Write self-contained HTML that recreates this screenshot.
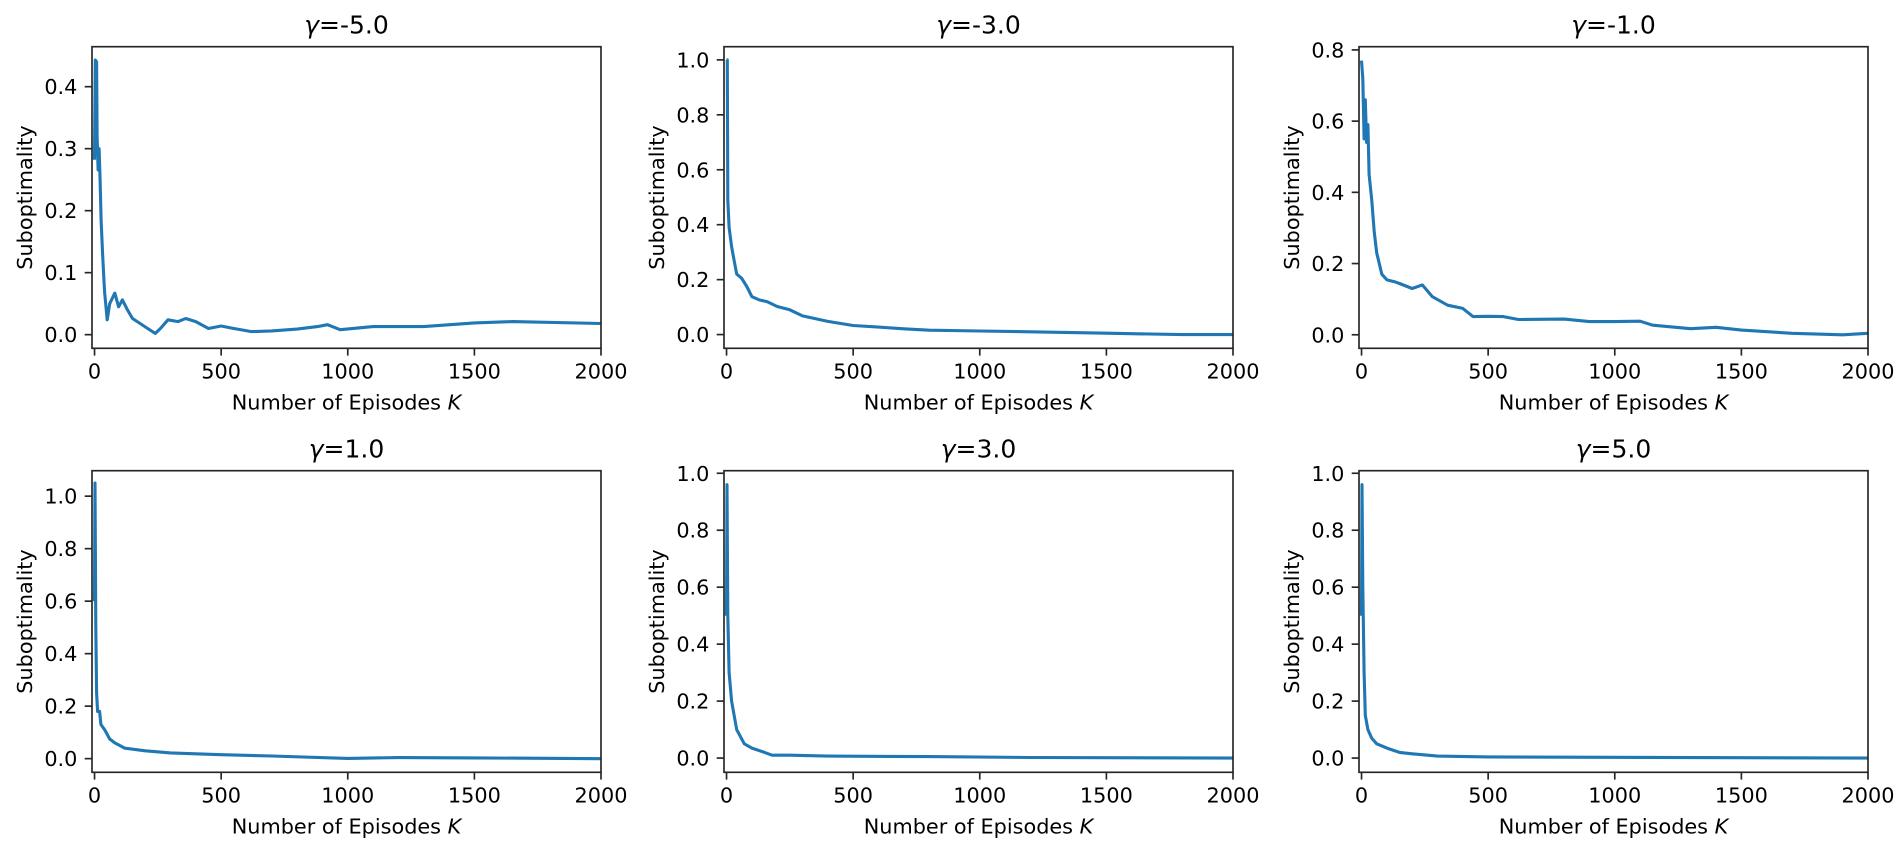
<!DOCTYPE html>
<html><head><meta charset="utf-8"><style>
html,body{margin:0;padding:0;background:#fff;}
svg{display:block;font-family:"DejaVu Sans","Liberation Sans",sans-serif;}
</style></head><body>
<svg id="fig" width="1899" height="843" viewBox="0 0 1899 843"></svg>
<script>
// ---- data ----
const titles = ["-5.0","-3.0","-1.0","1.0","3.0","5.0"];
const xTicks = [0,500,1000,1500,2000];
const p1x = [0,3,8,10,14,18,22,26,32,38,40,50,60,80,95,110,130,150,180,210,240,260,290,330,360,400,450,500,550,620,700,800,880,920,970,1100,1300,1500,1650,2000];
const p1y = [.282,.443,.44,.32,.266,.30,.25,.185,.13,.08,.067,.024,.05,.067,.045,.056,.04,.026,.018,.01,.002,.01,.024,.021,.026,.021,.01,.014,.01,.005,.006,.009,.013,.016,.008,.013,.013,.019,.021,.018];
const p2x = [0,3,5,10,20,30,40,60,80,100,130,160,200,250,300,400,500,600,700,800,1000,1200,1500,1800,2000];
const p2y = [1.0,1.0,.49,.39,.32,.27,.22,.205,.175,.138,.126,.12,.102,.09,.068,.048,.033,.027,.021,.016,.013,.01,.005,0,0];
const p3x = [0,5,10,15,20,25,30,40,50,60,70,80,100,130,150,200,240,280,340,400,440,500,560,620,800,900,1000,1100,1150,1300,1400,1500,1700,1900,2000];
const p3y = [.77,.72,.55,.66,.54,.59,.45,.38,.29,.23,.20,.17,.154,.149,.144,.13,.14,.107,.083,.074,.051,.052,.051,.043,.044,.037,.037,.038,.027,.017,.021,.013,.004,0,.004];
const p4x = [0,2,5,8,12,20,25,40,60,80,120,200,300,500,700,1000,1200,1500,2000];
const p4y = [.6,1.05,.5,.25,.18,.18,.13,.11,.075,.06,.04,.03,.022,.015,.01,.001,.004,.003,0];
const p5x = [0,2,5,10,20,40,70,100,150,180,250,400,800,1200,2000];
const p5y = [.5,.96,.5,.3,.2,.1,.05,.035,.02,.01,.01,.007,.005,.002,0];
const p6x = [0,2,5,10,15,25,40,60,100,150,200,300,500,2000];
const p6y = [.5,.96,.6,.3,.15,.1,.07,.05,.035,.02,.015,.007,.004,0];
const yTicks1 = [0.0,0.1,0.2,0.3,0.4];
const yTicks2 = [0.0,0.2,0.4,0.6,0.8,1.0];
const yTicks3 = [0.0,0.2,0.4,0.6,0.8];

const NS="http://www.w3.org/2000/svg";
const svg=document.getElementById('fig');
function mk(tag,attrs,parent){const e=document.createElementNS(NS,tag);for(const k in attrs)e.setAttribute(k,attrs[k]);(parent||svg).appendChild(e);return e;}

const cols=[[92,601],[724,1233],[1359,1868]];
const rows=[[46.7,348.3],[470.7,772.3]];
const panels=[
 {xs:p1x,ys:p1y,yl:[-0.022,0.4645],yt:yTicks1,dec:1},
 {xs:p2x,ys:p2y,yl:[-0.05,1.048],yt:yTicks2,dec:1},
 {xs:p3x,ys:p3y,yl:[-0.038,0.809],yt:yTicks3,dec:1},
 {xs:p4x,ys:p4y,yl:[-0.052,1.097],yt:yTicks2,dec:1},
 {xs:p5x,ys:p5y,yl:[-0.05,1.009],yt:yTicks2,dec:1},
 {xs:p6x,ys:p6y,yl:[-0.05,1.009],yt:yTicks2,dec:1}
];
const xl=[-10,2000];
panels.forEach((p,i)=>{
  const [L,R]=cols[i%3],[T,B]=rows[Math.floor(i/3)];
  const g=mk('g',{});
  
  
  const sx=v=>L+(v-xl[0])/(xl[1]-xl[0])*(R-L);
  const sy=v=>B-(v-p.yl[0])/(p.yl[1]-p.yl[0])*(B-T);
  const cid='clip'+i;
  const cp=mk('clipPath',{id:cid},g);mk('rect',{x:L,y:T,width:R-L,height:B-T},cp);
  let d='';p.xs.forEach((x,j)=>{d+=(j?'L':'M')+sx(x).toFixed(1)+','+sy(p.ys[j]).toFixed(1);});
  const ln=mk('path',{d:d,fill:'none',stroke:'#1f77b4','stroke-width':3.1,'stroke-linejoin':'round','clip-path':'url(#'+cid+')'},g);
  
  
  const fr=mk('rect',{x:L,y:T,width:R-L,height:B-T,fill:'none',stroke:'#262626','stroke-width':1.67},g);
  
  
  xTicks.forEach(v=>{
    const x=sx(v);
    mk('line',{x1:x,x2:x,y1:B,y2:B+7.3,stroke:'#262626','stroke-width':1.67},g);
    const t=mk('text',{x:x,y:B+30,'text-anchor':'middle','font-size':20.8,fill:'#000'},g);
    t.textContent=v;
    
    
  });
  p.yt.forEach(v=>{
    const y=sy(v);
    mk('line',{x1:L-7.3,x2:L,y1:y,y2:y,stroke:'#262626','stroke-width':1.67},g);
    const t=mk('text',{x:L-14.6,y:y+7.5,'text-anchor':'end','font-size':20.8,fill:'#000'},g);
    t.textContent=v.toFixed(p.dec);
    
    
  });
  const xt=mk('text',{x:(L+R)/2,y:B+61,'text-anchor':'middle','font-size':20.8,fill:'#000'},g);
  xt.innerHTML='Number of Episodes <tspan font-style="italic">K</tspan>';
  
  
  const cx=L-67,cy=(T+B)/2;
  const yt=mk('text',{x:cx,y:cy,'text-anchor':'middle','font-size':20.8,fill:'#000',transform:'rotate(-90 '+cx+' '+cy+')',dy:7},g);
  yt.textContent='Suboptimality';
  
  
  const tt=mk('text',{x:(L+R)/2,y:T-13,'text-anchor':'middle','font-size':25,fill:'#000'},g);
  tt.innerHTML='<tspan font-style="italic">γ</tspan>='+titles[i];
  
  
});
</script>
</body></html>
